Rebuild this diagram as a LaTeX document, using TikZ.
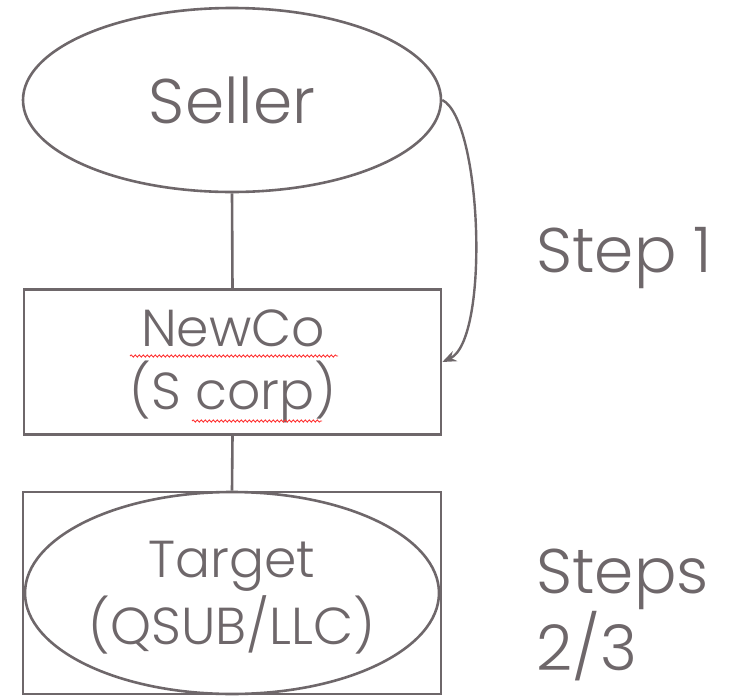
\documentclass[tikz,border=0pt]{standalone}
\usepackage{fontspec}
\setmainfont{Poppins Light}
\usetikzlibrary{shapes.geometric,arrows.meta,decorations.pathmorphing}
\definecolor{ink}{RGB}{110,103,106}
\begin{document}
\begin{tikzpicture}[x=1pt,y=-1pt,
  shapeline/.style={draw=ink,line width=2.6pt,inner sep=0pt},
  bigtext/.style={text=ink,font=\fontsize{63}{73}\selectfont},
  smalltext/.style={text=ink,font=\fontsize{52}{63}\selectfont,align=center},
  tgttext/.style={text=ink,font=\fontsize{52}{67}\selectfont,align=center},
  spell/.style={draw=red!80,line width=0.9pt,decorate,decoration={snake,amplitude=1.1pt,segment length=4pt}}]
\useasboundingbox (0,0) rectangle (732,697);
\node[shapeline,ellipse,minimum width=418pt,minimum height=184pt,bigtext] (seller) at (232,100) {Seller};
\node[shapeline,rectangle,minimum width=417pt,minimum height=145pt] (newco) at (232.5,362) {};
\node[smalltext] (newcotext) at (233,366) {NewCo\\(S corp)};
\node[shapeline,rectangle,minimum width=418pt,minimum height=202pt] (tbox) at (232,593) {};
\node[shapeline,ellipse,minimum width=414pt,minimum height=202pt] (target) at (232,593) {};
\node[tgttext] (targettext) at (232,598) {Target\\(QSUB/LLC)};
\draw[ink,line width=2.6pt] (seller.south) -- (newco.north);
\draw[ink,line width=2.6pt] (newco.south) -- (tbox.north);
\draw[ink,line width=2.4pt,-{Stealth[length=14pt,width=11pt]}] (seller.east) .. controls (482,120) and (490,340) .. (newco.east);
\node[bigtext,anchor=base west] (step1) at (533,272) {Step 1};
\node[bigtext,anchor=base west,align=left] (steps) at (533,670) {Steps\\2/3};
\draw[spell] (130,356) -- (338,356);
\draw[spell] (192,421) -- (322,421);
\end{tikzpicture}
\end{document}
